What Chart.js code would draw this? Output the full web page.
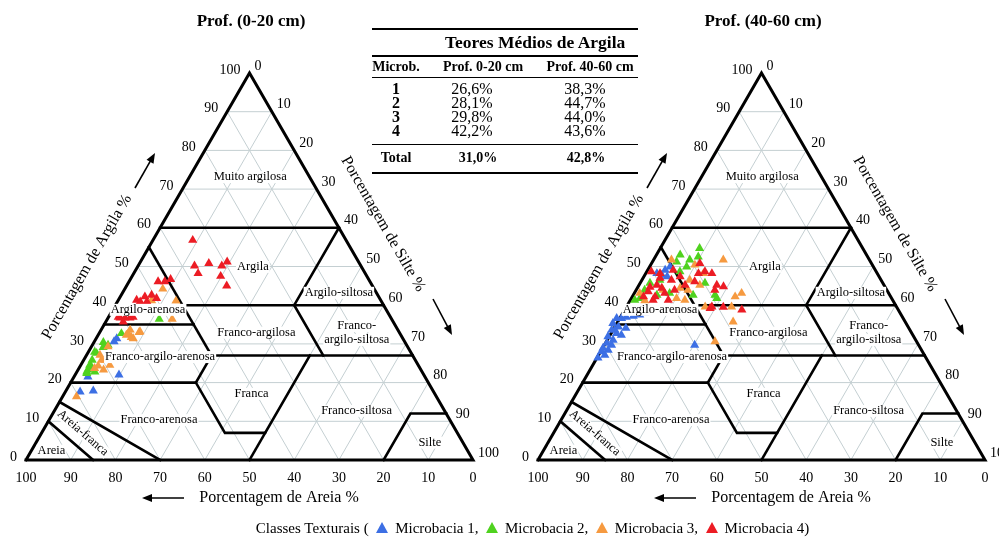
<!DOCTYPE html>
<html>
<head>
<meta charset="utf-8">
<script src="https://cdn.jsdelivr.net/npm/chart.js@4"></script>
<style>
    body { margin: 0; background: #fff; font-family: "Liberation Serif", serif; }
    #wrap { position: relative; width: 999px; height: 541px; overflow: hidden; }
    #wrap canvas { position: absolute; left: 0; top: 0; }
    .rule { position: absolute; left: 372px; width: 266px; background: #000; }
    .cell { position: absolute; text-align: center; color: #000; white-space: nowrap; }
    #legend { position: absolute; left: 33px; width: 999px; top: 519px; text-align: center; font-size: 15px; line-height: 18px; }
    .tri { display: inline-block; width: 0; height: 0; border-left: 6px solid transparent; border-right: 6px solid transparent; margin: 0 3px 0 4px; vertical-align: 0px; }
</style>
</head>
<body>
<div id="wrap">
    <canvas id="chartTop" width="999" height="541"></canvas>
    <canvas id="chartDeep" width="999" height="541"></canvas>
    <div id="table"></div>
    <div id="legend"></div>
</div>
<script>
// tick labels
var gridSteps = [10, 20, 30, 40, 50, 60, 70, 80, 90];
var clayTicks = [0, 10, 20, 30, 40, 50, 60, 70, 80, 90, 100];
var sandTicks = [100, 90, 80, 70, 60, 50, 40, 30, 20, 10, 0];
var siltTicks = [0, 10, 20, 30, 40, 50, 60, 70, 80, 90, 100];

var seriesNames = ["Microbacia 1", "Microbacia 2", "Microbacia 3", "Microbacia 4"];
var seriesColors = ["#3c6fe4", "#4fd21f", "#f69a40", "#ec1c24"];

// amostras [areia %, argila %] - Prof. 0-20 cm
var mb1_0_20 = [[64.0,31.4],[65.0,30.6],[75.4,21.5],[68.2,22.0],[79.1,17.6],[76.0,17.9]];
var mb2_0_20 = [[52.0,36.4],[62.3,32.7],[66.8,29.7],[67.5,30.4],[68.2,29.1],[70.4,27.6],[70.7,27.9],[72.3,25.8],
                [73.3,24.1],[73.5,24.5],[74.5,23.3],[75.0,22.8],[75.2,22.4],[73.2,22.8]];
var mb3_0_20 = [[47.3,44.2],[51.3,41.2],[45.9,41.1],[49.1,36.4],[58.2,33.0],[57.9,33.2],[59.9,33.6],[60.8,32.7],
                [61.4,32.3],[60.3,31.4],[60.6,31.7],[67.0,29.3],[69.9,27.1],[69.4,25.8],[70.2,25.8],[71.7,24.3],
                [72.8,23.7],[71.0,23.3],[69.0,24.5],[80.5,16.4]];
var mb4_0_20 = [[34.3,56.8],[37.2,50.2],[33.7,50.8],[37.4,48.2],[31.1,50.2],[29.4,51.2],[32.7,47.5],[32.6,45.0],
                [47.4,46.1],[45.9,46.1],[44.3,46.7],[54.6,41.3],[52.3,42.2],[50.6,42.6],[49.9,41.8],[52.5,40.9],
                [54.0,40.9],[60.6,36.7],[59.5,36.7],[58.4,36.7],[60.4,35.7],[60.9,36.9],[57.6,36.9]];

// amostras [areia %, argila %] - Prof. 40-60 cm
var mb1_40_60 = [[45.5,49.9],[47.0,49.1],[48.4,47.8],[49.3,48.2],[47.4,47.4],[64.1,36.6],[63.0,36.6],[61.8,36.9],
                 [60.1,37.2],[58.5,37.5],[57.1,38.0],[65.6,35.3],[64.8,34.4],[66.7,33.6],[66.0,33.6],[63.3,34.1],
                 [66.1,32.7],[65.2,32.3],[68.4,31.9],[67.7,31.0],[69.5,30.2],[68.7,29.7],[71.0,28.9],[70.1,28.4],
                 [71.8,28.0],[71.5,27.1],[73.4,26.4],[50.1,29.7]];
var mb2_40_60 = [[36.5,54.7],[41.7,53.0],[43.4,51.2],[40.2,51.7],[37.9,52.5],[41.8,49.9],[43.9,48.7],[52.1,45.7],
                 [54.2,43.9],[56.3,41.8],[52.1,42.6],[39.1,42.6],[39.1,41.8],[49.0,43.1],[44.0,42.6],[49.5,46.5],
                 [39.8,45.7],[57.7,41.3]];
var mb3_40_60 = [[32.7,51.7],[44.3,51.7],[39.7,50.4],[38.9,48.2],[42.8,46.5],[46.0,44.4],[48.1,41.8],[44.5,43.9],
                 [32.9,43.1],[34.8,42.2],[42.8,39.6],[38.5,35.7],[45.1,30.6],[55.5,41.2],[50.1,43.9],[55.7,43.1],
                 [36.9,39.6],[41.2,45.2],[46.5,41.3]];
var mb4_40_60 = [[50.3,48.7],[48.6,48.2],[46.9,46.5],[44.5,47.4],[40.0,48.2],[38.3,48.7],[37.0,48.2],[41.9,46.1],
                 [37.4,45.2],[36.1,44.8],[38.5,43.9],[50.8,45.2],[50.1,43.1],[53.6,43.5],[55.3,42.2],[52.7,42.2],
                 [50.2,41.3],[41.3,39.6],[38.8,39.5],[35.0,38.8],[49.2,47.0],[45.2,49.1],[53.6,41.3],[38.4,50.8],
                 [41.9,39.2],[50.1,44.4],[52.6,44.7],[47.5,43.9],[44.5,45.2]];

// limites das classes texturais [areia %, argila %]
var outline = [[100,0],[0,0],[0,100],[100,0]];
var classLimits = [
    [[40,60],[0,60]],
    [[45,55],[45,27]],
    [[45,40],[0,40]],
    [[0,60],[20,40],[20,27]],
    [[65,35],[45,35]],
    [[45,27],[0,27]],
    [[80,20],[52,20],[45,27]],
    [[52,20],[52,7],[43,7],[23,27]],
    [[43,7],[50,0]],
    [[85,15],[70,0]],
    [[90,10],[85,0]],
    [[20,0],[8,12],[0,12]]
];

// nomes das classes
var classNames = ["Muito argilosa", "Argila", "Argilo-siltosa", "Franco-argilosa", "Franco-\nargilo-siltosa",
                  "Franco-argilo-arenosa", "Argilo-arenosa", "Franca", "Franco-siltosa", "Franco-arenosa",
                  "Silte", "Areia", "Areia-franca"];
// where each name sits [areia, argila, rotation deg]
var classNamePos = [[13.3,73.1,0],[24.3,49.9,0],[8.4,43.2,0],[32.0,32.9,0],[9.6,32.8,0],
                    [56.7,26.6,0],[53.3,38.8,0],[41.0,17.1,0],[19.7,12.7,0],[65.1,10.3,0],
                    [7.4,4.5,0],[93.1,2.4,0],[83.8,7.0,41]];

// tabela
var tableRows = ["1", "2", "3", "4"];
var meanTop = ["26,6%", "28,1%", "29,8%", "42,2%"];
var meanDeep = ["38,3%", "44,7%", "44,0%", "43,6%"];
var totalTop = "31,0%";
var totalDeep = "42,8%";

var H = Math.sqrt(3) / 2;
function toXY(p) {
    return { x: 100 - p[0] - p[1] / 2, y: p[1] * H };
}

var FONT = '"Liberation Serif", "Times New Roman", serif';

function arrow(ctx, x1, y1, x2, y2) {
    var a = Math.atan2(y2 - y1, x2 - x1);
    ctx.beginPath();
    ctx.moveTo(x1, y1);
    ctx.lineTo(x2 - Math.cos(a) * 8, y2 - Math.sin(a) * 8);
    ctx.stroke();
    ctx.beginPath();
    ctx.moveTo(x2, y2);
    ctx.lineTo(x2 - Math.cos(a) * 10 + Math.sin(a) * 4, y2 - Math.sin(a) * 10 - Math.cos(a) * 4);
    ctx.lineTo(x2 - Math.cos(a) * 10 - Math.sin(a) * 4, y2 - Math.sin(a) * 10 + Math.cos(a) * 4);
    ctx.closePath();
    ctx.fill();
}

var ternaryDecor = {
    id: 'ternaryDecor',
    afterDatasetsDraw: function(chart, args, opts) {
        var ctx = chart.ctx;
        var xs = chart.scales.x, ys = chart.scales.y;
        var L = chart.chartArea.left, B = chart.chartArea.bottom;
        function px(sand, clay) {
            var p = toXY([sand, clay]);
            return [xs.getPixelForValue(p.x), ys.getPixelForValue(p.y)];
        }
        ctx.save();
        ctx.fillStyle = '#000';

        // class names
        ctx.font = '12.5px ' + FONT;
        ctx.textAlign = 'center';
        ctx.textBaseline = 'middle';
        classNames.forEach(function(name, i) {
            var pos = classNamePos[i];
            var p = px(pos[0], pos[1]);
            var lines = name.split('\n');
            ctx.save();
            ctx.translate(p[0], p[1]);
            ctx.rotate(pos[2] * Math.PI / 180);
            lines.forEach(function(t, k) {
                var dy = (k - (lines.length - 1) / 2) * 14;
                var w = ctx.measureText(t).width;
                ctx.fillStyle = '#fff';
                ctx.fillRect(-w / 2 - 1, dy - 6, w + 2, 12);
                ctx.fillStyle = '#000';
                ctx.fillText(t, 0, dy);
            });
            ctx.restore();
        });

        // ticks
        ctx.font = '14px ' + FONT;
        ctx.textAlign = 'right';
        clayTicks.forEach(function(c) {
            var p = px(100 - c, c);
            ctx.fillText(String(c), p[0] - 9, p[1] - 3);
        });
        ctx.textAlign = 'left';
        siltTicks.forEach(function(t) {
            var p = px(0, 100 - t);
            ctx.fillText(String(t), p[0] + 5, p[1] - 7);
        });
        ctx.textAlign = 'center';
        sandTicks.forEach(function(s) {
            var p = px(s, 0);
            ctx.fillText(String(s), p[0], p[1] + 18);
        });

        // axis titles
        ctx.font = '16px ' + FONT;
        ctx.save();
        ctx.translate(L + 61, B - 193);
        ctx.rotate(-Math.PI / 3);
        ctx.fillText('Porcentagem de Argila %', 0, 0);
        ctx.restore();
        ctx.save();
        ctx.translate(L + 357, B - 236);
        ctx.rotate(Math.PI / 3);
        ctx.fillText('Porcentagem de Silte %', 0, 0);
        ctx.restore();
        ctx.fillText('Porcentagem de Areia %', L + 253, B + 38);

        ctx.lineWidth = 1.6;
        ctx.strokeStyle = '#000';
        arrow(ctx, L + 109, B - 272, L + 129, B - 307);
        arrow(ctx, L + 407, B - 161, L + 426, B - 125);
        arrow(ctx, L + 158, B + 38, L + 116, B + 38);

        // title
        ctx.font = 'bold 17px ' + FONT;
        ctx.fillText(opts.title, L + 225, B - 438);
        ctx.restore();
    }
};

function makeChart(id, padLeft, padRight, title, series) {
    var datasets = [];
    gridSteps.forEach(function(v) {
        [[[100 - v, v], [0, v]], [[v, 0], [v, 100 - v]], [[100 - v, 0], [0, 100 - v]]].forEach(function(seg) {
            datasets.push({ data: seg.map(toXY), showLine: true, borderColor: '#c4cfd2', borderWidth: 1,
                            pointRadius: 0, pointHitRadius: 0, order: 200, clip: false });
        });
    });
    classLimits.forEach(function(seg) {
        datasets.push({ data: seg.map(toXY), showLine: true, borderColor: '#000', borderWidth: 2.6,
                        borderCapStyle: 'square', pointRadius: 0, pointHitRadius: 0, order: 100, clip: false });
    });
    datasets.push({ data: outline.map(toXY), showLine: true, borderColor: '#000', borderWidth: 3,
                    borderCapStyle: 'square', pointRadius: 0, pointHitRadius: 0, order: 99, clip: false });
    series.forEach(function(s, i) {
        datasets.push({
            label: seriesNames[i],
            data: s.map(toXY),
            pointStyle: 'triangle',
            pointRadius: 5.3,
            backgroundColor: seriesColors[i],
            borderWidth: 0,
            order: 4 - i,
            clip: false
        });
    });

    return new Chart(document.getElementById(id), {
        type: 'scatter',
        data: { datasets: datasets },
        options: {
            responsive: false,
            animation: false,
            events: [],
            devicePixelRatio: 1,
            layout: { padding: { left: padLeft, right: padRight, top: 73, bottom: 81 } },
            scales: {
                x: { type: 'linear', min: 0, max: 100, display: false },
                y: { type: 'linear', min: 0, max: 100 * H, display: false }
            },
            plugins: {
                legend: { display: false },
                tooltip: { enabled: false },
                ternaryDecor: { title: title }
            }
        },
        plugins: [ternaryDecor]
    });
}

makeChart('chartTop', 26, 526, 'Prof. (0-20 cm)', [mb1_0_20, mb2_0_20, mb3_0_20, mb4_0_20]);
makeChart('chartDeep', 538, 14, 'Prof. (40-60 cm)', [mb1_40_60, mb2_40_60, mb3_40_60, mb4_40_60]);

// table
(function() {
    var t = document.getElementById('table');
    var html = '';
    function rule(top, h) { html += '<div class="rule" style="top:' + top + 'px;height:' + h + 'px"></div>'; }
    function cell(txt, cx, cy, size, bold) {
        html += '<div class="cell" style="left:' + (cx - 60) + 'px;width:120px;top:' + (cy - 9) + 'px;line-height:18px;font-size:' +
                size + 'px;font-weight:' + (bold ? 'bold' : 'normal') + '">' + txt + '</div>';
    }
    rule(28, 2);
    cell('Teores Médios de Argila', 505, 42, 17.5, true);
    rule(55, 1.5);
    cell('Microb.', 396, 67, 14, true);
    cell('Prof. 0-20 cm', 483, 67, 14, true);
    cell('Prof. 40-60 cm', 590, 67, 14, true);
    rule(76.5, 1);
    tableRows.forEach(function(r, i) {
        var cy = 89 + i * 14;
        cell(r, 396, cy, 16, true);
        cell(meanTop[i], 472, cy, 16, false);
        cell(meanDeep[i], 585, cy, 16, false);
    });
    rule(143.5, 1.5);
    cell('Total', 396, 158, 14, true);
    cell(totalTop, 478, 158, 14, true);
    cell(totalDeep, 586, 158, 14, true);
    rule(171.5, 2);
    t.innerHTML = html;

    var lg = 'Classes Texturais (';
    seriesNames.forEach(function(n, i) {
        lg += ' <span class="tri" style="border-bottom:11px solid ' + seriesColors[i] + '"></span> ' + n + (i < 3 ? ',' : ')');
    });
    document.getElementById('legend').innerHTML = lg;
})();
</script>
</body>
</html>
